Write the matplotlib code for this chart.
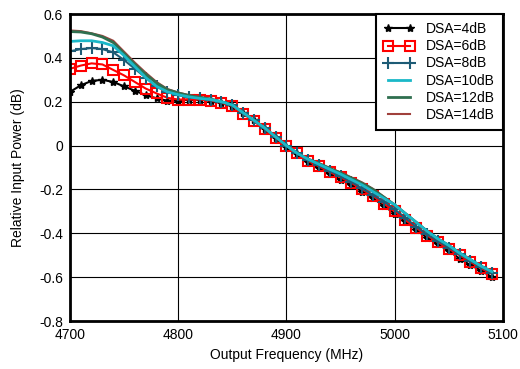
import numpy as np
import matplotlib.pyplot as plt

plt.rcParams['font.family'] = ['Liberation Sans', 'DejaVu Sans']

# Output frequency in MHz, one point every 10 MHz
freq = np.arange(4700, 5100, 10)

dsa4 = [0.245, 0.275, 0.295, 0.30, 0.29, 0.27, 0.25, 0.23, 0.215, 0.205,
        0.205, 0.21, 0.21, 0.205, 0.195, 0.18, 0.15, 0.115, 0.075, 0.035,
        -0.005, -0.04, -0.075, -0.10, -0.13, -0.155, -0.18, -0.21, -0.24, -0.275,
        -0.31, -0.345, -0.385, -0.42, -0.45, -0.48, -0.515, -0.545, -0.57, -0.60]
dsa6 = [0.35, 0.365, 0.375, 0.37, 0.345, 0.32, 0.29, 0.26, 0.238, 0.218,
        0.21, 0.21, 0.21, 0.205, 0.195, 0.18, 0.145, 0.11, 0.075, 0.035,
        0.0, -0.035, -0.07, -0.095, -0.12, -0.145, -0.17, -0.20, -0.23, -0.265,
        -0.30, -0.34, -0.375, -0.41, -0.44, -0.47, -0.50, -0.53, -0.56, -0.585]
dsa8 = [0.43, 0.44, 0.445, 0.44, 0.425, 0.39, 0.35, 0.31, 0.27, 0.245,
        0.23, 0.22, 0.215, 0.21, 0.20, 0.185, 0.15, 0.115, 0.08, 0.04,
        0.0, -0.035, -0.065, -0.09, -0.115, -0.14, -0.165, -0.195, -0.225, -0.255,
        -0.29, -0.33, -0.37, -0.405, -0.435, -0.465, -0.495, -0.525, -0.555, -0.58]
dsa10 = [0.475, 0.478, 0.478, 0.47, 0.455, 0.41, 0.36, 0.31, 0.27, 0.245,
         0.232, 0.222, 0.215, 0.21, 0.20, 0.185, 0.15, 0.115, 0.08, 0.04,
         0.0, -0.035, -0.062, -0.085, -0.108, -0.13, -0.155, -0.18, -0.21, -0.24,
         -0.27, -0.31, -0.35, -0.39, -0.425, -0.455, -0.49, -0.52, -0.55, -0.575]
dsa12 = [0.52, 0.518, 0.51, 0.495, 0.47, 0.42, 0.37, 0.325, 0.285, 0.255,
         0.24, 0.228, 0.22, 0.212, 0.20, 0.185, 0.15, 0.115, 0.08, 0.04,
         0.0, -0.035, -0.062, -0.082, -0.104, -0.125, -0.148, -0.172, -0.20, -0.235,
         -0.27, -0.31, -0.35, -0.39, -0.425, -0.455, -0.49, -0.52, -0.55, -0.575]
dsa14 = [0.525, 0.522, 0.512, 0.50, 0.478, 0.428, 0.378, 0.332, 0.29, 0.258,
         0.242, 0.23, 0.222, 0.213, 0.20, 0.185, 0.15, 0.115, 0.08, 0.04,
         0.0, -0.034, -0.06, -0.08, -0.102, -0.122, -0.145, -0.168, -0.197, -0.233,
         -0.27, -0.31, -0.35, -0.39, -0.425, -0.455, -0.49, -0.52, -0.55, -0.575]

labels = ["DSA=4dB", "DSA=6dB", "DSA=8dB", "DSA=10dB", "DSA=12dB", "DSA=14dB"]

fig = plt.figure(figsize=(5.2, 3.69), dpi=100)
ax = fig.add_axes([0.1346, 0.130, 0.8324, 0.832])

ax.plot(freq, dsa4, color="black", lw=1.5, marker="*", ms=6, label=labels[0], zorder=3)
ax.plot(freq, dsa6, color="#ff0000", lw=1.5, marker="s", ms=7, mfc="none",
        mew=1.5, label=labels[1], zorder=4)
ax.plot(freq, dsa8, color="#1d5b75", lw=1.5, marker="+", ms=8, mew=1.5,
        label=labels[2], zorder=5)
ax.plot(freq, dsa10, color="#1ab8c8", lw=2, label=labels[3], zorder=8)
ax.plot(freq, dsa12, color="#2f6f4f", lw=2, label=labels[4], zorder=7)
ax.plot(freq, dsa14, color="#a0403c", lw=1.5, label=labels[5], zorder=6)

ax.set_xlim(4700, 5100)
ax.set_ylim(-0.8, 0.6)
ax.set_xticks([4700, 4800, 4900, 5000, 5100])
ax.set_yticks(np.arange(-0.8, 0.61, 0.2))
ax.set_yticklabels(["-0.8", "-0.6", "-0.4", "-0.2", "0", "0.2", "0.4", "0.6"])
ax.tick_params(labelsize=10, length=0, pad=5)
ax.grid(True, color="black", lw=0.8)
for s in ax.spines.values():
    s.set_linewidth(2)
    s.set_zorder(10)

ax.set_xlabel("Output Frequency (MHz)", fontsize=10, labelpad=4)
ax.set_ylabel("Relative Input Power (dB)", fontsize=10, labelpad=10)

leg = ax.legend(loc="upper right", fontsize=10, fancybox=False, framealpha=1,
                edgecolor="black", borderaxespad=0, handlelength=2.2,
                labelspacing=0.22, borderpad=0.6, numpoints=2)
leg.get_frame().set_linewidth(1.5)
leg.set_zorder(20)

fig.savefig("out.png", dpi=100)
